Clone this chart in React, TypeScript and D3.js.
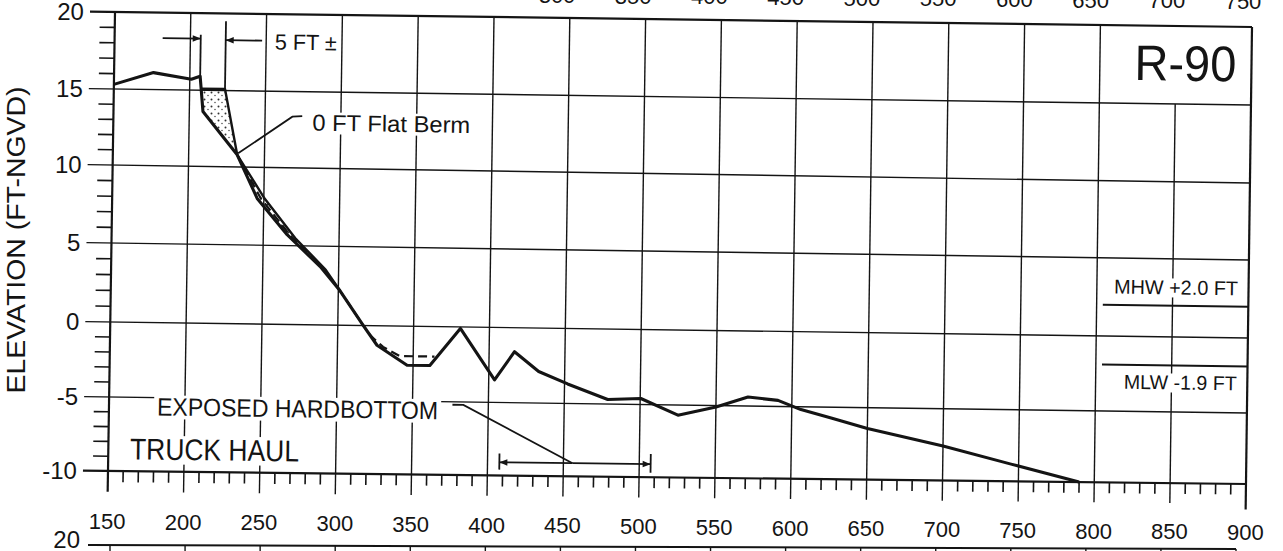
import React from "react";
import * as d3 from "d3";

const W = 1283;
const H = 551;

// existing ground profile (station ft, elevation ft-NGVD)
const existingStation = [150, 176, 201, 206.8, 209, 232, 245.6, 265.7, 287.8, 301, 316.8, 326, 346, 361, 380.8, 403.8, 416.7, 432.8, 452, 478.6, 500.4, 525, 550, 571, 590.8, 606, 626, 650, 700, 745, 790];
const existingElev = [15.3, 16.1, 15.7, 15.9, 13.6, 10.8, 8.0, 5.7, 3.7, 2.2, 0.0, -1.3, -2.6, -2.6, -0.1, -3.5, -1.6, -2.9, -3.7, -4.7, -4.6, -5.7, -5.1, -4.4, -4.6, -5.2, -5.75, -6.45, -7.6, -8.8, -10];

// 0 ft flat berm template
const bermStation = [207.2, 223.3, 232, 250.5, 271, 291.5, 301];
const bermElev = [15.1, 15.1, 10.8, 8.0, 5.5, 3.5, 2.2];

// dashed profile
const dashStation = [232, 248, 268.3, 289.7, 301, 316, 322, 330, 341, 364];
const dashElev = [10.8, 8.0, 5.6, 3.6, 2.2, 0.1, -0.7, -1.4, -2.0, -2.0];

const xTicks = [150, 200, 250, 300, 350, 400, 450, 500, 550, 600, 650, 700, 750, 800, 850, 900];
const yTicks = [20, 15, 10, 5, 0, -5, -10];
const prevTicks = [300, 350, 400, 450, 500, 550, 600, 650, 700, 750];

const MHW = 2.0;
const MLW = -1.9;

// the scanned sheet is skewed: left and right edges of the frame, in pixels
const leftX = d3.scaleLinear().domain([20, -10]).range([115, 108]);
const rightX = d3.scaleLinear().domain([20, -10]).range([1252, 1246]);
const leftY = d3.scaleLinear().domain([20, 15, 10, 5, 0, -5, -10]).range([12, 89, 165, 243, 322, 397, 471]);
const rightY = d3.scaleLinear().domain([20, 15, 10, 5, 0, -5, -10]).range([27, 105, 183, 260, 338, 413, 484]);
const xU = d3.scaleLinear().domain([150, 900]).range([0, 1]);

const P = (x: number, y: number): [number, number] => {
  const u = xU(x);
  return [(1 - u) * leftX(y) + u * rightX(y), (1 - u) * leftY(y) + u * rightY(y)];
};

const at = (x: number, y: number) => {
  const a = P(x, y);
  const b = P(x + 10, y);
  const ang = (Math.atan2(b[1] - a[1], b[0] - a[0]) * 180) / Math.PI;
  return `translate(${a[0]},${a[1]}) rotate(${ang})`;
};

const line = d3
  .line<[number, number]>()
  .x(d => P(d[0], d[1])[0])
  .y(d => P(d[0], d[1])[1]);

const zip = (s: number[], e: number[]) => s.map((v, i) => [v, e[i]] as [number, number]);

const seg = (x1: number, y1: number, x2: number, y2: number) => line([[x1, y1], [x2, y2]]) || "";

const FONT = "'Liberation Sans', Arial, sans-serif";
const INK = "#141414";

const Label = ({ x, y, text, size, len, anchor = "start", bg = true }: any) => {
  const dx = anchor === "end" ? -len : anchor === "middle" ? -len / 2 : 0;
  return (
    <g transform={at(x, y)}>
      {bg && <rect x={dx - 3} y={-size * 0.8} width={len + 6} height={size * 0.95} fill="white" />}
      <text
        x={0}
        y={0}
        fontSize={size}
        fontFamily={FONT}
        fill={INK}
        textAnchor={anchor}
        textLength={len}
        lengthAdjust="spacingAndGlyphs"
      >
        {text}
      </text>
    </g>
  );
};

const App = () => {
  const existing = zip(existingStation, existingElev);
  const berm = zip(bermStation, bermElev);
  const dash = zip(dashStation, dashElev);

  // fill between template and existing
  const exSlope = existing.filter(d => d[0] >= 209 && d[0] <= 301);
  const fillPoly = [...berm, ...exSlope.slice().reverse(), [207.5, 15.1] as [number, number]];

  const yMinor = d3.range(-9, 20).filter(v => v % 5 !== 0);
  const xMinor = d3.range(160, 900, 10).filter(v => v % 50 !== 0);
  const grids = xTicks.filter(v => v > 150 && v < 900);

  const xPrev = d3.scaleLinear().domain([300, 750]).range([557, 1243]);
  const yPrev = d3.scaleLinear().domain([300, 750]).range([3, 9]);
  const xNext = d3.scaleLinear().domain([150, 900]).range([110, 1236]);
  const yNext = d3.scaleLinear().domain([150, 900]).range([545, 549]);

  return (
    <svg width={W} height={H} style={{ position: "absolute", left: 0, top: 0, background: "white" }}>
      <defs>
        <pattern id="stip" width="7" height="7" patternUnits="userSpaceOnUse">
          <circle cx="1.5" cy="1.5" r="1" fill="#333" />
          <circle cx="5" cy="4.5" r="0.8" fill="#555" />
        </pattern>
        <marker id="arr" viewBox="0 0 10 10" refX="10" refY="5" markerWidth="12" markerHeight="8" orient="auto" markerUnits="userSpaceOnUse">
          <path d="M0,1 L10,5 L0,9 z" fill={INK} />
        </marker>
      </defs>

      {/* previous chart's axis labels, cut off at the top */}
      {prevTicks.map(t => (
        <text key={"p" + t} x={xPrev(t)} y={yPrev(t)} fontSize={22} fontFamily={FONT} fill={INK} textAnchor="middle">
          {t}
        </text>
      ))}

      {/* grid */}
      <g stroke={INK} strokeWidth={1.4} fill="none">
        {grids.map(g => (
          <path key={"gx" + g} d={seg(g, g === 850 ? 15 : 20, g, -11.4)} />
        ))}
        {[15, 10, 5, 0, -5].map(g => (
          <path key={"gy" + g} d={seg(133.5, g, 900, g)} />
        ))}
        {yMinor.map(m => (
          <path key={"ym" + m} d={seg(140, m, 150, m)} strokeWidth={1.6} />
        ))}
        {xMinor.map(m => (
          <path key={"xm" + m} d={seg(m, -10, m, -10.75)} strokeWidth={1.6} />
        ))}
      </g>

      {/* frame */}
      <g stroke={INK} strokeWidth={2.2} fill="none">
        <path d={seg(133.5, 20, 900, 20)} />
        <path d={seg(133.5, -10, 900, -10)} />
        <path d={seg(150, 20, 150, -11.4)} />
        <path d={seg(900, 20, 900, -11.8)} />
      </g>

      {/* tidal datums */}
      <g stroke={INK} strokeWidth={2} fill="none">
        <path d={seg(804, MHW, 900, MHW)} />
        <path d={seg(804, MLW, 900, MLW)} />
      </g>

      {/* fill template */}
      <path d={line(fillPoly) || ""} fill="url(#stip)" stroke="none" />

      {/* profiles */}
      <path d={line(dash) || ""} fill="none" stroke={INK} strokeWidth={2.2} strokeDasharray="9,5" />
      <path d={line(berm) || ""} fill="none" stroke={INK} strokeWidth={2.4} strokeLinejoin="round" />
      <path d={line(existing) || ""} fill="none" stroke={INK} strokeWidth={3.1} strokeLinejoin="round" />

      {/* 5 FT dimension */}
      <g stroke={INK} strokeWidth={1.8} fill="none">
        <path d={seg(206.8, 15.9, 206.8, 18.6)} />
        <path d={seg(223.3, 15.1, 223.3, 19.5)} />
        <path d={seg(181.7, 18.35, 206.8, 18.35)} markerEnd="url(#arr)" />
        <path d={seg(247.3, 18.27, 223.3, 18.27)} markerEnd="url(#arr)" />
      </g>
      <Label x={255.7} y={17.7} text="5 FT ±" size={22} len={62} />

      {/* berm leader */}
      <path
        d={line([[274.5, 13.4], [268, 13.35], [232.6, 10.9]]) || ""}
        fill="none"
        stroke={INK}
        strokeWidth={1.8}
      />
      <Label x={281.2} y={12.46} text="0 FT Flat Berm" size={23} len={158} />

      {/* hardbottom */}
      <Label x={181.7} y={-6.2} text="EXPOSED HARDBOTTOM" size={25} len={281} />
      <path
        d={line([[376.3, -5.2], [383.5, -5.2], [456, -9.1]]) || ""}
        fill="none"
        stroke={INK}
        strokeWidth={1.8}
      />
      <g stroke={INK} strokeWidth={1.8} fill="none">
        <path d={seg(456, -9.1, 407.8, -9.1)} markerEnd="url(#arr)" />
        <path d={seg(456, -9.1, 507.5, -9.1)} markerEnd="url(#arr)" />
        <path d={seg(407.8, -8.5, 407.8, -9.6)} />
        <path d={seg(507.5, -8.4, 507.5, -9.7)} />
      </g>
      <Label x={164.3} y={-9.2} text="TRUCK HAUL" size={30} len={169} />

      {/* profile id */}
      <Label x={890} y={16.5} text="R-90" size={50} len={102} anchor="end" bg={false} />

      <Label x={893} y={2.72} text="MHW +2.0 FT" size={20} len={124} anchor="end" />
      <Label x={893} y={-3.5} text="MLW -1.9 FT" size={20} len={113} anchor="end" />

      {/* axis labels */}
      {yTicks.map(t => {
        const [px, py] = P(129.5, t);
        return (
          <text key={"yt" + t} x={px} y={py} dy="0.35em" fontSize={24} fontFamily={FONT} fill={INK} textAnchor="end">
            {t}
          </text>
        );
      })}
      {xTicks.map(t => {
        const [px, py] = P(t, -13.4);
        return (
          <text key={"xt" + t} x={px} y={py} dy="0.35em" fontSize={22} fontFamily={FONT} fill={INK} textAnchor="middle">
            {t}
          </text>
        );
      })}
      <text
        transform="translate(25,240) rotate(-90)"
        fontSize={26}
        fontFamily={FONT}
        fill={INK}
        textAnchor="middle"
        textLength={307}
        lengthAdjust="spacingAndGlyphs"
      >
        ELEVATION (FT-NGVD)
      </text>

      {/* next chart's top edge */}
      <text x={80} y={540} dy="0.35em" fontSize={24} fontFamily={FONT} fill={INK} textAnchor="end">
        20
      </text>
      <path d={`M88,${yNext(150)} L${xNext(900)},${yNext(900)}`} stroke={INK} strokeWidth={2} />
      {xTicks.map(t => (
        <path key={"n" + t} d={`M${xNext(t)},${yNext(t)} L${xNext(t)},${H}`} stroke={INK} strokeWidth={1.4} />
      ))}
    </svg>
  );
};

export default App;
